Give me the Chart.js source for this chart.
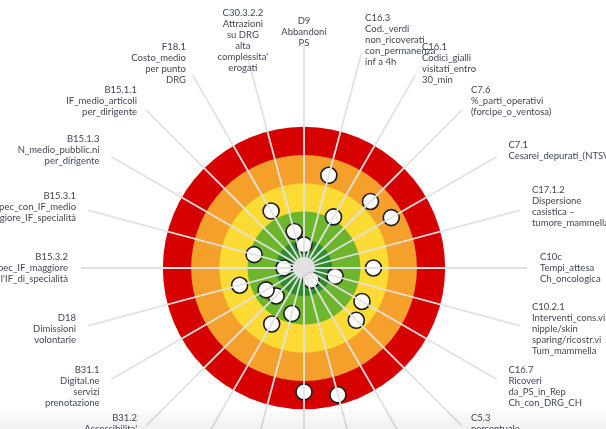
<!DOCTYPE html>
<html>
<head>
<meta charset="utf-8">
<script src="https://cdn.jsdelivr.net/npm/chart.js@4"></script>
<style>
    html, body { margin: 0; padding: 0; background: #fff; overflow: hidden; }
    #wrap { position: relative; width: 606px; height: 429px; overflow: hidden; }
    #bersaglio { position: absolute; left: 0; top: 0; }
    #fascia { position: absolute; left: 0; top: 411px; width: 606px; height: 18px;
        background: linear-gradient(to bottom, rgba(0,0,0,0.015), rgba(0,0,0,0.06)); }
</style>
</head>
<body>
<div id="wrap">
    <canvas id="bersaglio" width="606" height="520"></canvas>
    <div id="fascia"></div>
</div>
<script>
// Indicatori (in senso orario partendo dall'alto)
const indicatori = [
    ['D9', 'Abbandoni', 'PS'],
    ['C16.3', 'Cod._verdi', 'non_ricoverati', 'con_permanenza', 'inf a 4h'],
    ['C16.1', 'Codici_gialli', 'visitati_entro', '30_min'],
    ['C7.6', '%_parti_operativi', '(forcipe_o_ventosa)'],
    ['C7.1', 'Cesarei_depurati_(NTSV)'],
    ['C17.1.2', 'Dispersione', 'casistica –', 'tumore_mammella'],
    ['C10c', 'Tempi_attesa', 'Ch_oncologica'],
    ['C10.2.1', 'Interventi_cons.vi', 'nipple/skin', 'sparing/ricostr.vi', 'Tum_mammella'],
    ['C16.7', 'Ricoveri', 'da_PS_in_Rep', 'Ch_con_DRG_CH'],
    ['C5.3', 'percentuale', 'prostatectomie', 'transuretrali'],
    ['C5.2', 'Frattura_collo', 'femore', 'operata_entro_2gg'],
    ['C4.4', 'Colecistectomie', 'laparoscopiche', 'in_DH'],
    ['C4.1', 'DRG_medici', 'dimessi_da', 'reparti_chirurgici'],
    ['C2a', 'Indice', 'performance', 'degenza_media'],
    ['B5.1', 'Screening', 'mammografico', 'estensione'],
    ['B31.2', "Accessibilita'", 'servizi', 'online'],
    ['B31.1', 'Digital.ne', 'servizi', 'prenotazione'],
    ['D18', 'Dimissioni', 'volontarie'],
    ['B15.3.2', 'N_pubblicazioni_spec_IF_maggiore', "dell'IF_di_specialità"],
    ['B15.3.1', 'N_pubblicazioni_spec_con_IF_medio', 'maggiore_IF_specialità'],
    ['B15.1.3', 'N_medio_pubblic.ni', 'per_dirigente'],
    ['B15.1.1', 'IF_medio_articoli', 'per_dirigente'],
    ['F18.1', 'Costo_medio', 'per punto', 'DRG'],
    ['C30.3.2.2', 'Attrazioni', 'su DRG', 'alta', "complessita'", 'erogati']
];

// Valutazione 0-5 (5 = centro del bersaglio)
const punteggi = [
    4.18, 1.60, 2.91, 1.67, 1.43, null, 2.54, 3.86, 2.63, 2.38, 4.50, 0.35,
    0.61, 3.33, 2.71, 3.60, 3.45, 2.64, 4.29, 3.17, null, null, 2.67, 3.66
];

// Fasce del bersaglio: limite esterno e colore
const fasceLimite = [0, 1, 2, 3, 4];
const fasceColore = ['#d60000', '#f6a02c', '#fcdc34', '#6db52d', '#2a8c2a'];

// Disegna le fasce colorate sotto i punti
const fascePlugin = {
    id: 'fasce',
    beforeDatasetsDraw(chart) {
        const scale = chart.scales.r;
        const ctx = chart.ctx;
        ctx.save();
        fasceLimite.forEach((v, i) => {
            ctx.beginPath();
            ctx.arc(scale.xCenter, scale.yCenter, scale.getDistanceFromCenterForValue(v), 0, Math.PI * 2);
            ctx.fillStyle = fasceColore[i];
            ctx.fill();
        });
        ctx.beginPath();
        ctx.arc(scale.xCenter, scale.yCenter, 11, 0, Math.PI * 2);
        ctx.fillStyle = '#e2e2e2';
        ctx.fill();
        ctx.restore();
    }
};

// Etichette centrate sulla fine dei raggi
const etichettePlugin = {
    id: 'etichette',
    afterDraw(chart) {
        const scale = chart.scales.r;
        const ctx = chart.ctx;
        const lh = 11;
        ctx.save();
        ctx.font = '9.5px Lato';
        ctx.fillStyle = '#404759';
        ctx.textBaseline = 'middle';
        indicatori.forEach((righe, i) => {
            const p = scale.getPointPosition(i, scale.drawingArea + 13);
            const dx = p.x - scale.xCenter;
            ctx.textAlign = dx > 40 ? 'left' : (dx < -70 ? 'right' : 'center');
            const y0 = p.y - (righe.length - 1) * lh / 2;
            righe.forEach((t, k) => ctx.fillText(t, p.x, y0 + k * lh));
        });
        ctx.restore();
    }
};

new Chart(document.getElementById('bersaglio'), {
    type: 'radar',
    data: {
        labels: indicatori.map(r => r[0]),
        datasets: [{
            data: punteggi,
            showLine: false,
            fill: false,
            borderWidth: 0,
            borderColor: 'rgba(0,0,0,0)',
            pointRadius: 8,
            pointBorderWidth: 1.6,
            pointBackgroundColor: '#ffffff',
            pointBorderColor: '#1c1c1c'
        }]
    },
    options: {
        responsive: false,
        animation: false,
        layout: { padding: { left: 81, right: 79, top: 45, bottom: 29 } },
        plugins: {
            legend: { display: false },
            tooltip: { enabled: false }
        },
        scales: {
            r: {
                min: -2.9,
                max: 5,
                reverse: true,
                ticks: { display: false },
                grid: { display: false, z: 1 },
                pointLabels: { display: false },
                angleLines: { color: '#e1e1e1', lineWidth: 1.8 }
            }
        }
    },
    plugins: [fascePlugin, etichettePlugin]
});
</script>
</body>
</html>
